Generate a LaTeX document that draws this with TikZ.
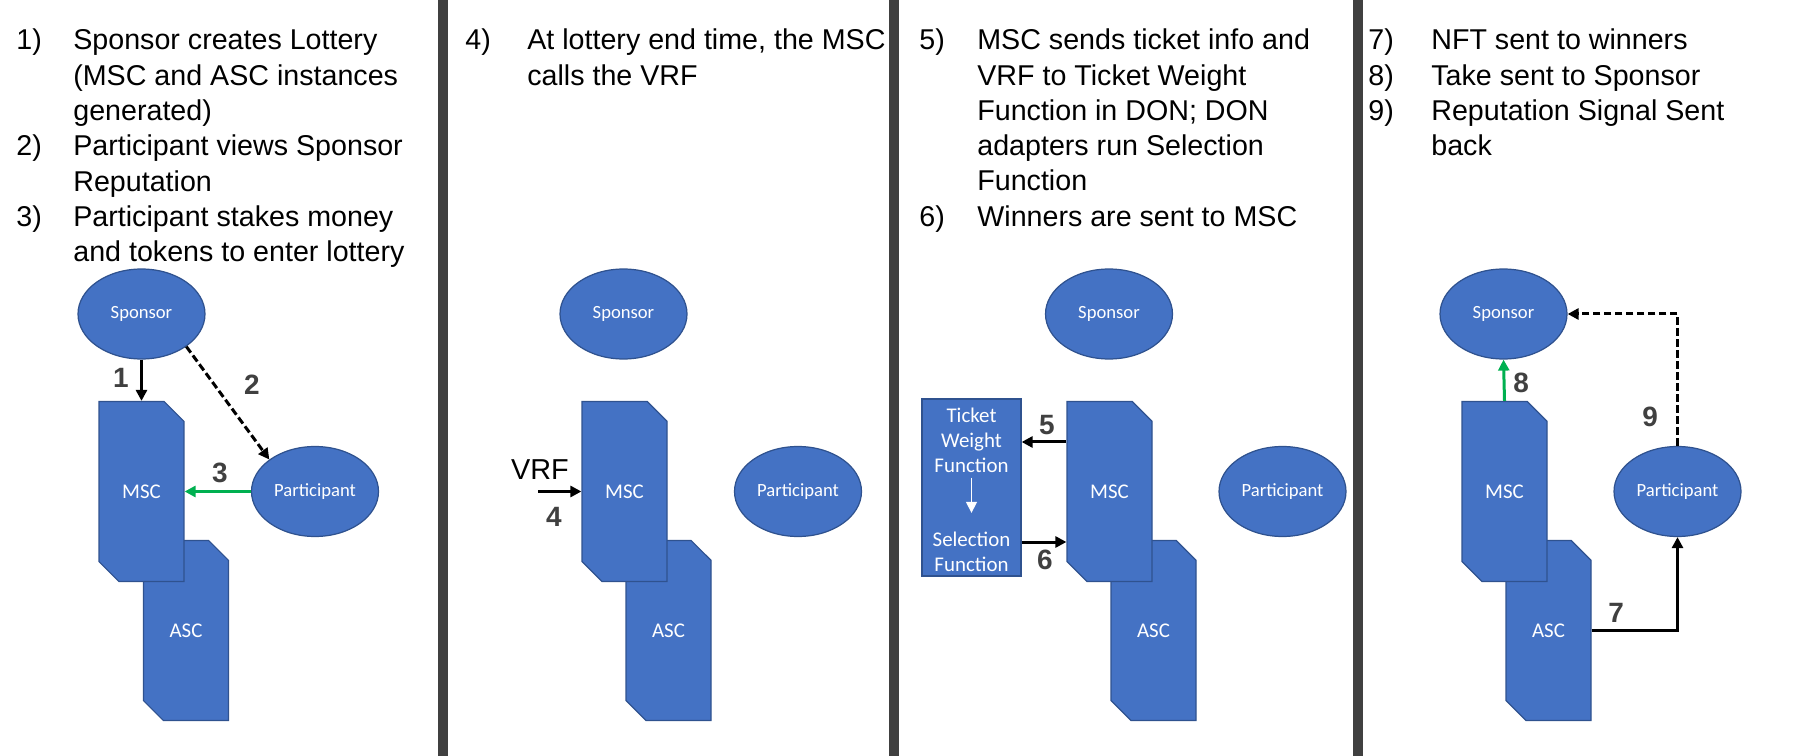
\documentclass[tikz,border=0pt]{standalone}
\usepackage{xcolor}
\usepackage{fontspec}
\setmainfont{Liberation Sans}
\newfontfamily\shapefont{Carlito}
\usetikzlibrary{shapes.geometric,shapes.misc,arrows.meta}

% Lines of one step, first baseline on the anchor
\newcommand{\steplines}[1]{\begin{tabular}[t]{@{}l@{}}#1\end{tabular}}

\begin{document}
\begin{tikzpicture}[x=0.02cm,y=-0.02cm,
  party/.style={ellipse,draw=shapeedge,fill=shapeblue,line width=0.7pt,
    minimum width=2.54cm,minimum height=1.8cm,inner sep=0pt,text=white,
    font=\shapefont\fontsize{10.6pt}{12pt}\selectfont},
  contract/.style={chamfered rectangle,chamfered rectangle corners={north east,south west},
    chamfered rectangle xsep=0.26cm,chamfered rectangle ysep=0.26cm,
    draw=shapeedge,fill=shapeblue,line width=0.7pt,
    minimum width=1.7cm,minimum height=3.6cm,inner sep=0pt,text=white,
    font=\shapefont\fontsize{11.9pt}{14pt}\selectfont},
  donbox/.style={rectangle,draw=shapeedge,fill=shapeblue,line width=0.7pt,
    minimum width=1.98cm,minimum height=3.54cm,inner sep=0pt},
  dontext/.style={align=center,inner sep=0.1cm,text=white,
    font=\shapefont\fontsize{11.9pt}{14.2pt}\selectfont},
  itemnum/.style={anchor=base west,inner sep=0pt,font=\fontsize{16.3pt}{20pt}\selectfont},
  itemtext/.style={anchor=base west,inner sep=0pt,font=\fontsize{16.3pt}{20pt}\selectfont},
  steplabel/.style={inner sep=0pt,text=labelgray,font=\bfseries\fontsize{15.9pt}{18pt}\selectfont},
  flow/.style={-{Triangle[length=0.22cm,width=0.22cm]},line width=0.06cm},
  greenflow/.style={flow,draw=stepgreen},
  dashflow/.style={flow,dash pattern=on 0.15cm off 0.07cm},
  whiteflow/.style={-{Triangle[length=0.22cm,width=0.22cm]},line width=0.03cm,draw=white}]
% Define colours
\definecolor{shapeblue}{RGB}{68,114,196}   % Office blue
\definecolor{shapeedge}{RGB}{47,82,143}    % Darker outline
\definecolor{stepgreen}{RGB}{0,176,80}     % Green arrows
\definecolor{labelgray}{RGB}{64,64,64}     % Step numbers
\definecolor{bargray}{RGB}{64,64,64}       % Panel separators

% Page size
\useasboundingbox (0,0) rectangle (1808,756);

% Separators between the four panels
\fill[bargray] (438,0) rectangle (448,756);
\fill[bargray] (889,0) rectangle (899,756);
\fill[bargray] (1353,0) rectangle (1363,756);

% Panel 1: steps 1-3
\node[itemnum] (num1) at (16,50) {1)};
\node[itemtext] (item1) at (73,50) {\steplines{Sponsor creates Lottery\\(MSC and ASC instances\\generated)}};
\node[itemnum] (num2) at (16,156) {2)};
\node[itemtext] (item2) at (73,156) {\steplines{Participant views Sponsor\\Reputation}};
\node[itemnum] (num3) at (16,226.5) {3)};
\node[itemtext] (item3) at (73,226.5) {\steplines{Participant stakes money\\and tokens to enter lottery}};

\node[contract] (asc1) at (186,630.5) {ASC};
\node[contract] (msc1) at (141.5,491.5) {MSC};
\node[party] (spo1) at (141.5,314) {Sponsor};
\node[party] (par1) at (315,491.5) {Participant};

\draw[flow] (spo1.south) -- (msc1.north);
\draw[dashflow] (spo1.-36) -- (par1.145);
\draw[greenflow] (par1.west) -- (msc1.east);
\node[steplabel] (lab1) at (121,378) {1};
\node[steplabel] (lab2) at (252,385) {2};
\node[steplabel] (lab3) at (220,473) {3};

% Panel 2: step 4
\node[itemnum] (num4) at (465,50) {4)};
\node[itemtext] (item4) at (527,50) {\steplines{At lottery end time, the MSC\\calls the VRF}};

\node[contract] (asc2) at (668.5,630.5) {ASC};
\node[contract] (msc2) at (624.5,491.5) {MSC};
\node[party] (spo2) at (623.5,314) {Sponsor};
\node[party] (par2) at (798,491.5) {Participant};

\node[inner sep=0pt,font=\fontsize{16.4pt}{18pt}\selectfont] (vrf) at (540,470) {VRF};
\coordinate (vrfin) at (538,491.5);
\draw[flow] (vrfin) -- (msc2.west);
\node[steplabel] (lab4) at (554,517) {4};

% Panel 3: steps 5-6
\node[itemnum] (num5) at (919,50) {5)};
\node[itemtext] (item5) at (977,50) {\steplines{MSC sends ticket info and\\VRF to Ticket Weight\\Function in DON; DON\\adapters run Selection\\Function}};
\node[itemnum] (num6) at (919,226.5) {6)};
\node[itemtext] (item6) at (977,226.5) {\steplines{Winners are sent to MSC}};

\node[contract] (asc3) at (1153.5,630.5) {ASC};
\node[contract] (msc3) at (1109.5,491.5) {MSC};
\node[party] (spo3) at (1109,314) {Sponsor};
\node[party] (par3) at (1282.5,491.5) {Participant};

\node[donbox] (don) at (971.5,487.5) {};
\node[dontext] (weightfn) at (971.5,440) {Ticket\\Weight\\Function};
\node[dontext] (selectfn) at (971.5,552) {Selection\\Function};
\draw[whiteflow,shorten >=0.28cm] (weightfn) -- (selectfn);

\draw[flow] (msc3.west |- 0,442) -- (don.east |- 0,442);
\draw[flow] (don.east |- 0,542) -- (msc3.west |- 0,542);
\node[steplabel] (lab5) at (1047,425) {5};
\node[steplabel] (lab6) at (1045,560) {6};

% Panel 4: steps 7-9
\node[itemnum] (num7) at (1368,50) {7)};
\node[itemtext] (item7) at (1431,50) {\steplines{NFT sent to winners}};
\node[itemnum] (num8) at (1368,85.3) {8)};
\node[itemtext] (item8) at (1431,85.3) {\steplines{Take sent to Sponsor}};
\node[itemnum] (num9) at (1368,120.6) {9)};
\node[itemtext] (item9) at (1431,120.6) {\steplines{Reputation Signal Sent\\back}};

\node[contract] (asc4) at (1548.5,630.5) {ASC};
\node[contract] (msc4) at (1504.5,491.5) {MSC};
\node[party] (spo4) at (1503.5,314) {Sponsor};
\node[party] (par4) at (1677.5,491.5) {Participant};

\draw[flow] (asc4.east) -| (par4.south);
\draw[greenflow] (msc4.north) -- (spo4.south);
\draw[dashflow] (par4.north) |- (spo4.east);
\node[steplabel] (lab7) at (1616,613) {7};
\node[steplabel] (lab8) at (1521,383) {8};
\node[steplabel] (lab9) at (1650,417) {9};
\end{tikzpicture}
\end{document}
